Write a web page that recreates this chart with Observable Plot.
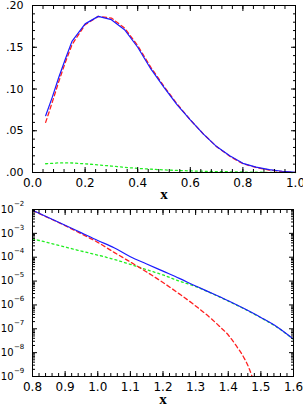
<!DOCTYPE html>
<html><head><meta charset="utf-8">
<script src="https://cdn.jsdelivr.net/npm/d3@7"></script>
<script src="https://cdn.jsdelivr.net/npm/@observablehq/plot@0.6"></script>
<style>body{margin:0;background:#fff} svg{display:block;overflow:visible}</style>
</head><body><div id="top"></div><div id="bot"></div>
<script>
// ---- Top panel data (linear scale) ----
const topX      = [0.05, 0.075, 0.1, 0.125, 0.15, 0.2, 0.25, 0.3, 0.35, 0.4, 0.45, 0.5, 0.55, 0.6, 0.65, 0.7, 0.75, 0.8, 0.85, 0.9, 0.95, 1.0];
const topBlue   = [0.068, 0.090, 0.114, 0.136, 0.157, 0.178, 0.187, 0.183, 0.171, 0.150, 0.124, 0.102, 0.081, 0.063, 0.046, 0.031, 0.020, 0.011, 0.0065, 0.0035, 0.0015, 0.0003];
const topRed    = [0.060, 0.084, 0.109, 0.132, 0.153, 0.177, 0.187, 0.185, 0.173, 0.152, 0.126, 0.103, 0.082, 0.063, 0.046, 0.031, 0.0195, 0.0105, 0.006, 0.003, 0.001, 0.0001];
const topGreenX = [0.05, 0.1, 0.15, 0.2, 0.25, 0.3, 0.35, 0.4, 0.5, 0.6, 0.7, 0.8, 0.9, 1.0];
const topGreen  = [0.0105, 0.0115, 0.0114, 0.0104, 0.0091, 0.0077, 0.0062, 0.0049, 0.0031, 0.0019, 0.0011, 0.0006, 0.0002, 0.0];

// ---- Bottom panel data (log scale) ----
const botX     = [0.80, 0.85, 0.90, 0.95, 1.00, 1.05, 1.10, 1.15, 1.20, 1.25, 1.30, 1.35, 1.40, 1.45, 1.50, 1.55, 1.60];
const botBlue  = [9.3e-3, 4.5e-3, 2.2e-3, 1.05e-3, 5.0e-4, 2.5e-4, 1.05e-4, 5.2e-5, 2.6e-5, 1.3e-5, 6.2e-6, 3.1e-6, 1.5e-6, 6.9e-7, 3.0e-7, 1.2e-7, 3.7e-8];
const botGreen = [5.9e-4, 4.0e-4, 2.7e-4, 1.8e-4, 1.23e-4, 8.1e-5, 5.0e-5, 3.0e-5, 1.8e-5, 1.0e-5, 5.9e-6, 3.0e-6, 1.45e-6, 6.7e-7, 2.9e-7, 1.15e-7, 3.6e-8];
const botRedX  = [0.80, 0.85, 0.90, 0.95, 1.00, 1.05, 1.10, 1.15, 1.20, 1.25, 1.30, 1.35, 1.375, 1.40, 1.425, 1.45, 1.465, 1.48];
const botRed   = [9.1e-3, 4.4e-3, 2.1e-3, 9.5e-4, 4.2e-4, 1.6e-4, 6.3e-5, 2.4e-5, 8.7e-6, 2.9e-6, 9.1e-7, 2.5e-7, 1.2e-7, 5.5e-8, 1.9e-8, 5.5e-9, 2.0e-9, 5e-10];

// ---- Tick values ----
const topXMajor = [0, 0.2, 0.4, 0.6, 0.8, 1.0];
const topYMajor = [0, 0.05, 0.10, 0.15, 0.20];
const botXMajor = [0.8, 0.9, 1.0, 1.1, 1.2, 1.3, 1.4, 1.5, 1.6];
const botExp    = [-2, -3, -4, -5, -6, -7, -8, -9];

const topXMinor = d3.range(0, 1.0001, 0.04);
const topYMinor = d3.range(0, 0.2001, 0.01);
const botXMinor = d3.range(0.8, 1.6001, 0.02);
const botYMinor = botExp.slice(1).flatMap(k => d3.range(2, 10).map(m => m * Math.pow(10, k)));
const botYMajor = botExp.map(k => Math.pow(10, k));

const zip = (xs, ys) => xs.map((x, i) => ({x, y: ys[i]}));
const FONT = "DejaVu Sans";
const BLUE = "#1a1aff", RED = "#ff2020", GREEN = "#22ee22";
const none = () => "";

// inward ticks on all four sides, drawn with axis marks shifted into the frame
function frameTicks(xMinor, xMajor, yMinor, yMajor) {
  const out = [];
  for (const [vals, len] of [[xMinor, 3], [xMajor, 5]]) {
    out.push(Plot.axisX(vals, {anchor: "bottom", tickSize: len, dy: -len, tickFormat: none, label: null, stroke: "black"}));
    out.push(Plot.axisX(vals, {anchor: "top", tickSize: len, dy: len, tickFormat: none, label: null, stroke: "black"}));
  }
  for (const [vals, len] of [[yMinor, 3], [yMajor, 5]]) {
    out.push(Plot.axisY(vals, {anchor: "left", tickSize: len, dx: len, tickFormat: none, label: null, stroke: "black"}));
    out.push(Plot.axisY(vals, {anchor: "right", tickSize: len, dx: -len, tickFormat: none, label: null, stroke: "black"}));
  }
  return out;
}

// ---- Top chart ----
{
  const W = 303, H = 205, mt = 5, mb = 33, ml = 32, mr = 8;
  const chart = Plot.plot({
    width: W, height: H, marginTop: mt, marginBottom: mb, marginLeft: ml, marginRight: mr,
    style: {fontFamily: FONT, background: "white", overflow: "visible"},
    x: {domain: [0, 1], axis: null},
    y: {domain: [0, 0.2], axis: null},
    marks: [
      Plot.lineY(zip(topGreenX, topGreen), {x: "x", y: "y", stroke: GREEN, strokeWidth: 1.3, strokeDasharray: "2,3"}),
      Plot.lineY(zip(topX, topRed), {x: "x", y: "y", stroke: RED, strokeWidth: 1.3, strokeDasharray: "4,3"}),
      Plot.lineY(zip(topX, topBlue), {x: "x", y: "y", stroke: BLUE, strokeWidth: 1.2}),
      ...frameTicks(topXMinor, topXMajor, topYMinor, topYMajor),
      Plot.frame({stroke: "black"}),
      Plot.axisX(topXMajor, {anchor: "bottom", tickSize: 0, tickPadding: 6, tickFormat: d => d.toFixed(1), fontSize: 12, label: null}),
      Plot.axisY(topYMajor, {anchor: "left", tickSize: 0, tickPadding: 9, tickFormat: d => d.toFixed(2).replace(/^0/, ""), fontSize: 11, label: null}),
      Plot.text(["x"], {frameAnchor: "bottom", dy: 26, text: d => d, fontFamily: "Liberation Serif", fontSize: 15, fontWeight: "bold"})
    ]
  });
  document.getElementById("top").append(chart);
}

// ---- Bottom chart ----
{
  const W = 303, H = 204, mt = 4, mb = 33, ml = 32, mr = 10;
  const chart = Plot.plot({
    width: W, height: H, marginTop: mt, marginBottom: mb, marginLeft: ml, marginRight: mr,
    style: {fontFamily: FONT, background: "white", overflow: "visible"},
    x: {domain: [0.8, 1.6], axis: null},
    y: {type: "log", domain: [1e-9, 1e-2], axis: null},
    marks: [
      Plot.lineY(zip(botX, botGreen), {x: "x", y: "y", stroke: GREEN, strokeWidth: 1.3, strokeDasharray: "2,3", curve: "monotone-x", clip: true}),
      Plot.lineY(zip(botRedX, botRed), {x: "x", y: "y", stroke: RED, strokeWidth: 1.3, strokeDasharray: "4,3", curve: "monotone-x", clip: true}),
      Plot.lineY(zip(botX, botBlue), {x: "x", y: "y", stroke: BLUE, strokeWidth: 1.2, curve: "monotone-x", clip: true}),
      ...frameTicks(botXMinor, botXMajor, botYMinor, botYMajor),
      Plot.frame({stroke: "black"}),
      Plot.axisX(botXMajor, {anchor: "bottom", tickSize: 0, tickPadding: 6, tickFormat: d => d.toFixed(1), fontSize: 12, label: null}),
      Plot.text(botExp, {y: k => Math.pow(10, k), text: () => "10", frameAnchor: "left", textAnchor: "end", dx: -19, fontSize: 10}),
      Plot.text(botExp, {y: k => Math.pow(10, k), text: k => "\u2212" + Math.abs(k), frameAnchor: "left", textAnchor: "start", dx: -18.5, dy: -6, fontSize: 7}),
      Plot.text(["x"], {frameAnchor: "bottom", dy: 27, text: d => d, fontFamily: "Liberation Serif", fontSize: 15, fontWeight: "bold"})
    ]
  });
  document.getElementById("bot").append(chart);
}
</script>
</body></html>
